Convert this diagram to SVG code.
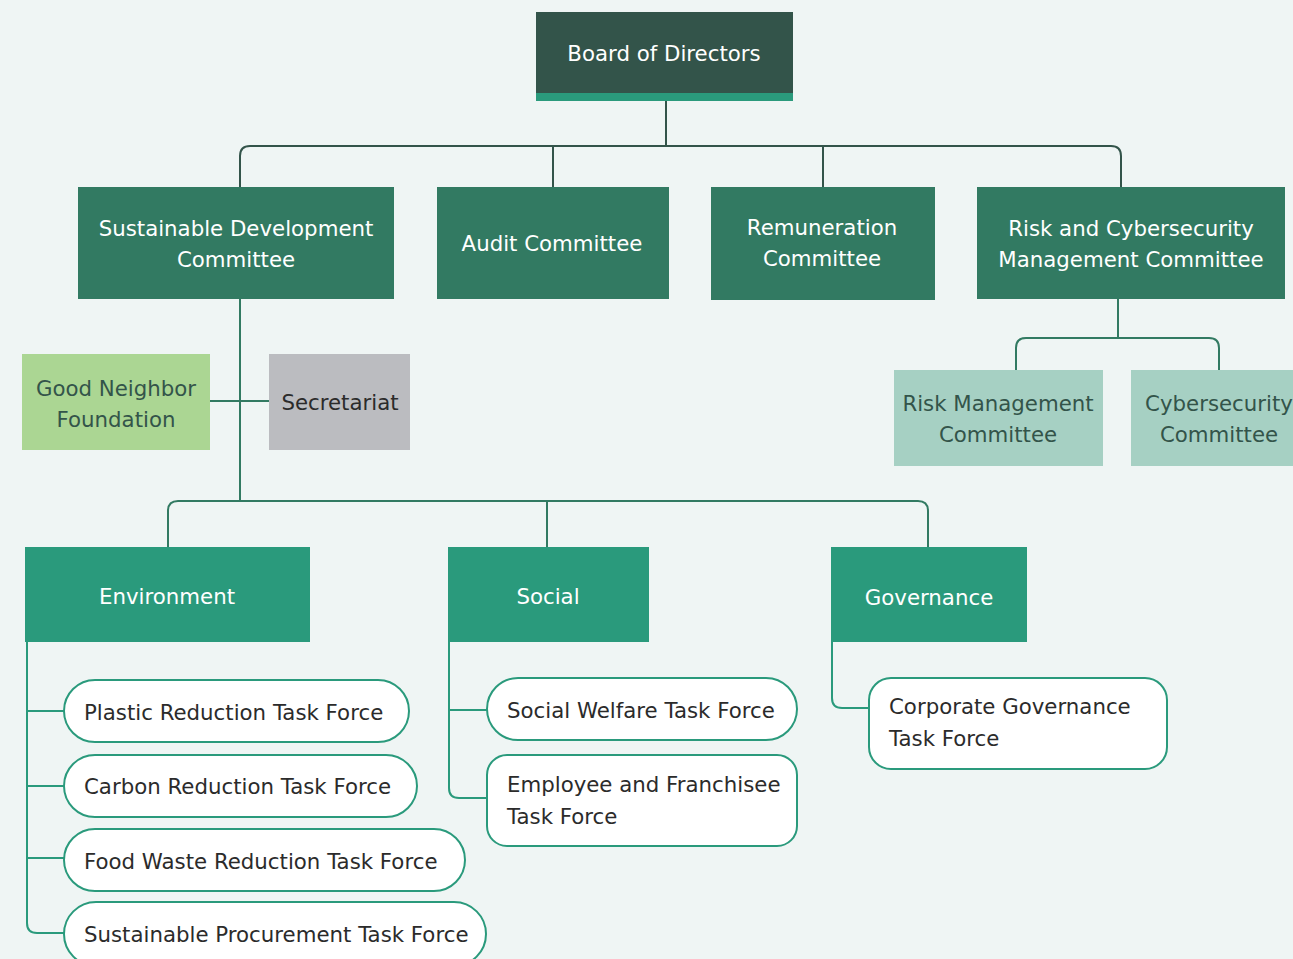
<svg xmlns="http://www.w3.org/2000/svg" width="1293" height="959" viewBox="0 0 1293 959">
<style>
text{font-family:"DejaVu Sans","Open Sans","Liberation Sans",sans-serif;font-size:21.3px;}
.w{fill:#ffffff;text-anchor:middle;}
.dk{fill:#33544a;text-anchor:middle;}
.sec{fill:#2b2b2b;text-anchor:middle;}
.t{fill:#2b2b2b;}
.c1{fill:none;stroke:#33544a;stroke-width:2;}
.c2{fill:none;stroke:#327a62;stroke-width:2;}
.c3{fill:none;stroke:#2a9a7c;stroke-width:2;}
.pill{fill:#ffffff;stroke:#2a9a7c;stroke-width:2;}
.l2{fill:#327a62;}
.l3{fill:#2a9a7c;}
</style>
<rect x="0" y="0" width="1293" height="959" fill="#eff5f4"/>
<g id="connectors">
<path class="c1" d="M666 101V146"/>
<path class="c1" d="M240 187V156Q240 146 250 146H1111Q1121 146 1121 156V187"/>
<path class="c1" d="M553 146V187M823 146V187"/>
<path class="c2" d="M1118 299V338"/>
<path class="c2" d="M1016 370V348Q1016 338 1026 338H1209Q1219 338 1219 348V370"/>
<path class="c2" d="M240 299V501M210 401H269"/>
<path class="c2" d="M168 547V511Q168 501 178 501H918Q928 501 928 511V547M547 501V547"/>
<path class="c3" d="M27 642V923Q27 933 37 933H64M27 711H64M27 786H64M27 858H64"/>
<path class="c3" d="M449 642V788Q449 798 459 798H487M449 710H487"/>
<path class="c3" d="M832 642V698Q832 708 842 708H869"/>
</g>
<g id="board">
<rect x="536" y="12" width="257" height="89" fill="#33544a"/>
<rect x="536" y="93" width="257" height="8" fill="#2a9a7c"/>
<text class="w" x="664" y="61">Board of Directors</text>
</g>
<g id="sdc">
<rect class="l2" x="78" y="187" width="316" height="112"/>
<text class="w" x="236" y="236">Sustainable Development</text>
<text class="w" x="236" y="267">Committee</text>
</g>
<g id="audit">
<rect class="l2" x="437" y="187" width="232" height="112"/>
<text class="w" x="552" y="251">Audit Committee</text>
</g>
<g id="remuneration">
<rect class="l2" x="711" y="187" width="224" height="113"/>
<text class="w" x="822" y="235">Remuneration</text>
<text class="w" x="822" y="266">Committee</text>
</g>
<g id="riskcyber">
<rect class="l2" x="977" y="187" width="308" height="112"/>
<text class="w" x="1131" y="236">Risk and Cybersecurity</text>
<text class="w" x="1131" y="267">Management Committee</text>
</g>
<g id="riskmgmt">
<rect x="894" y="370" width="209" height="96" fill="#a6d0c3"/>
<text class="dk" x="998" y="411">Risk Management</text>
<text class="dk" x="998" y="442">Committee</text>
</g>
<g id="cyber">
<rect x="1131" y="370" width="170" height="96" fill="#a6d0c3"/>
<text class="dk" x="1219" y="411">Cybersecurity</text>
<text class="dk" x="1219" y="442">Committee</text>
</g>
<g id="goodneighbor">
<rect x="22" y="354" width="188" height="96" fill="#abd693"/>
<text class="dk" x="116" y="396">Good Neighbor</text>
<text class="dk" x="116" y="427">Foundation</text>
</g>
<g id="secretariat">
<rect x="269" y="354" width="141" height="96" fill="#bbbcc0"/>
<text class="sec" x="340" y="410">Secretariat</text>
</g>
<g id="environment">
<rect class="l3" x="25" y="547" width="285" height="95"/>
<text class="w" x="167" y="604">Environment</text>
</g>
<g id="social">
<rect class="l3" x="448" y="547" width="201" height="95"/>
<text class="w" x="548" y="604">Social</text>
</g>
<g id="governance">
<rect class="l3" x="831" y="547" width="196" height="95"/>
<text class="w" x="929" y="605">Governance</text>
</g>
<g id="plastic">
<rect class="pill" x="64" y="680" width="345" height="62" rx="31"/>
<text class="t" x="84" y="720">Plastic Reduction Task Force</text>
</g>
<g id="carbon">
<rect class="pill" x="64" y="755" width="353" height="62" rx="31"/>
<text class="t" x="84" y="794">Carbon Reduction Task Force</text>
</g>
<g id="foodwaste">
<rect class="pill" x="64" y="829" width="401" height="62" rx="31"/>
<text class="t" x="84" y="869">Food Waste Reduction Task Force</text>
</g>
<g id="procurement">
<rect class="pill" x="64" y="902" width="422" height="64" rx="32"/>
<text class="t" x="84" y="942">Sustainable Procurement Task Force</text>
</g>
<g id="welfare">
<rect class="pill" x="487" y="678" width="310" height="62" rx="31"/>
<text class="t" x="507" y="718">Social Welfare Task Force</text>
</g>
<g id="employee">
<rect class="pill" x="487" y="755" width="310" height="91" rx="20"/>
<text class="t" x="507" y="792">Employee and Franchisee</text>
<text class="t" x="507" y="824">Task Force</text>
</g>
<g id="corpgov">
<rect class="pill" x="869" y="678" width="298" height="91" rx="22"/>
<text class="t" x="889" y="714">Corporate Governance</text>
<text class="t" x="889" y="746">Task Force</text>
</g>
</svg>
